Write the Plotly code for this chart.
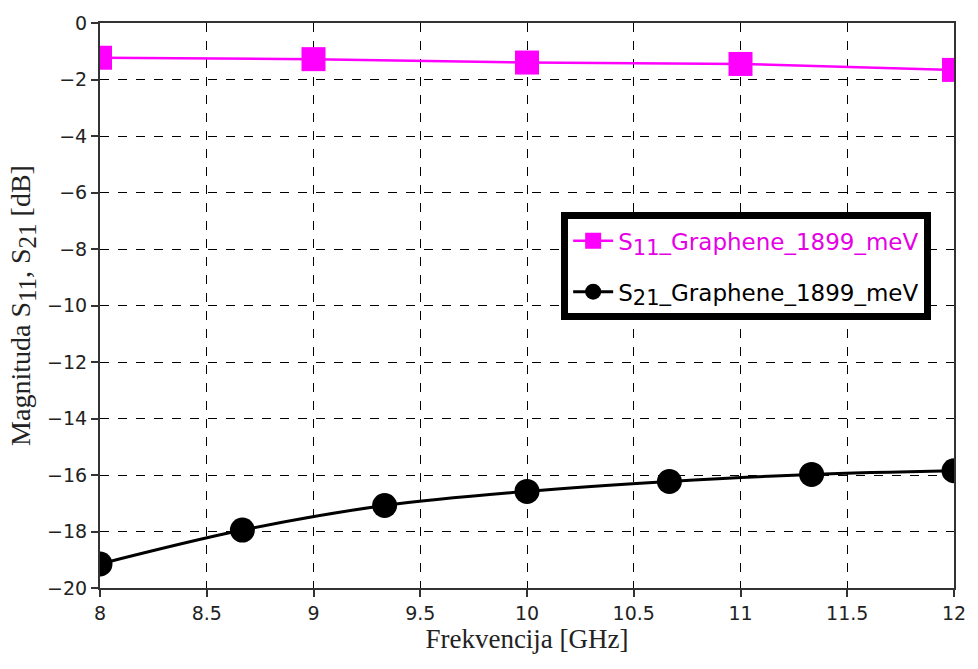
import plotly.graph_objects as go

# Data
s11_freq = [8, 9, 10, 11, 12]
s11_db = [-1.23, -1.28, -1.40, -1.45, -1.66]

s21_freq = [8, 8.667, 9.333, 10, 10.667, 11.333, 12]
s21_db = [-19.15, -17.95, -17.08, -16.58, -16.23, -15.98, -15.85]

x_ticks = [8, 8.5, 9, 9.5, 10, 10.5, 11, 11.5, 12]
x_ticklabels = ["8", "8.5", "9", "9.5", "10", "10.5", "11", "11.5", "12"]
y_ticks = [0, -2, -4, -6, -8, -10, -12, -14, -16, -18, -20]

s11_name = "<span style='color:#e600e6'>S<sub><span style='font-size:21px'>11</span></sub>_Graphene_1899_meV</span>"
s21_name = "S<sub><span style='font-size:21px'>21</span></sub>_Graphene_1899_meV"
y_title = "Magnituda S<sub><span style='font-size:25px'>11</span></sub>, S<sub><span style='font-size:25px'>21</span></sub> [dB]"
x_title = "Frekvencija [GHz]"

fig = go.Figure()
fig.add_trace(go.Scatter(
    x=s11_freq, y=s11_db, name=s11_name, mode="lines+markers",
    legendgroup="a",
    line=dict(color="#ff00ff", width=2.5),
    marker=dict(symbol="square", size=24, color="#ff00ff"),
))
fig.add_trace(go.Scatter(
    x=s21_freq, y=s21_db, name=s21_name, mode="lines+markers",
    legendgroup="b",
    line=dict(color="black", width=3, shape="spline"),
    marker=dict(symbol="circle", size=25, color="black"),
))

axis_common = dict(
    showline=True, linecolor="#333333", linewidth=2, mirror=True,
    showgrid=True, gridcolor="black", griddash="dash", gridwidth=1,
    ticks="outside", ticklen=7, tickcolor="#333333", tickwidth=1.5,
    zeroline=False,
    tickfont=dict(family="DejaVu Sans, Verdana, sans-serif", size=19, color="#222222"),
)

fig.update_layout(
    width=978, height=669,
    paper_bgcolor="white", plot_bgcolor="white",
    margin=dict(l=100, r=16, t=20, b=81),
    showlegend=True,
    legend=dict(
        x=0.540, y=0.665, xanchor="left", yanchor="top",
        bgcolor="white", bordercolor="black", borderwidth=7,
        font=dict(family="DejaVu Sans, Verdana, sans-serif", size=23, color="black"),
        traceorder="grouped", tracegroupgap=18, itemwidth=40,
    ),
    xaxis=dict(
        range=[8, 12], tickvals=x_ticks, ticktext=x_ticklabels,
        title=dict(text=x_title, standoff=6,
                   font=dict(family="Liberation Serif, Times New Roman, serif", size=27, color="#222222")),
        **axis_common,
    ),
    yaxis=dict(
        range=[-20, 0], tickvals=y_ticks,
        title=dict(text=y_title, standoff=8,
                   font=dict(family="Liberation Serif, Times New Roman, serif", size=28, color="#222222")),
        **axis_common,
    ),
)

fig.write_html("out.html", config={"displayModeBar": False},
               post_script="document.body.style.margin='0';")
